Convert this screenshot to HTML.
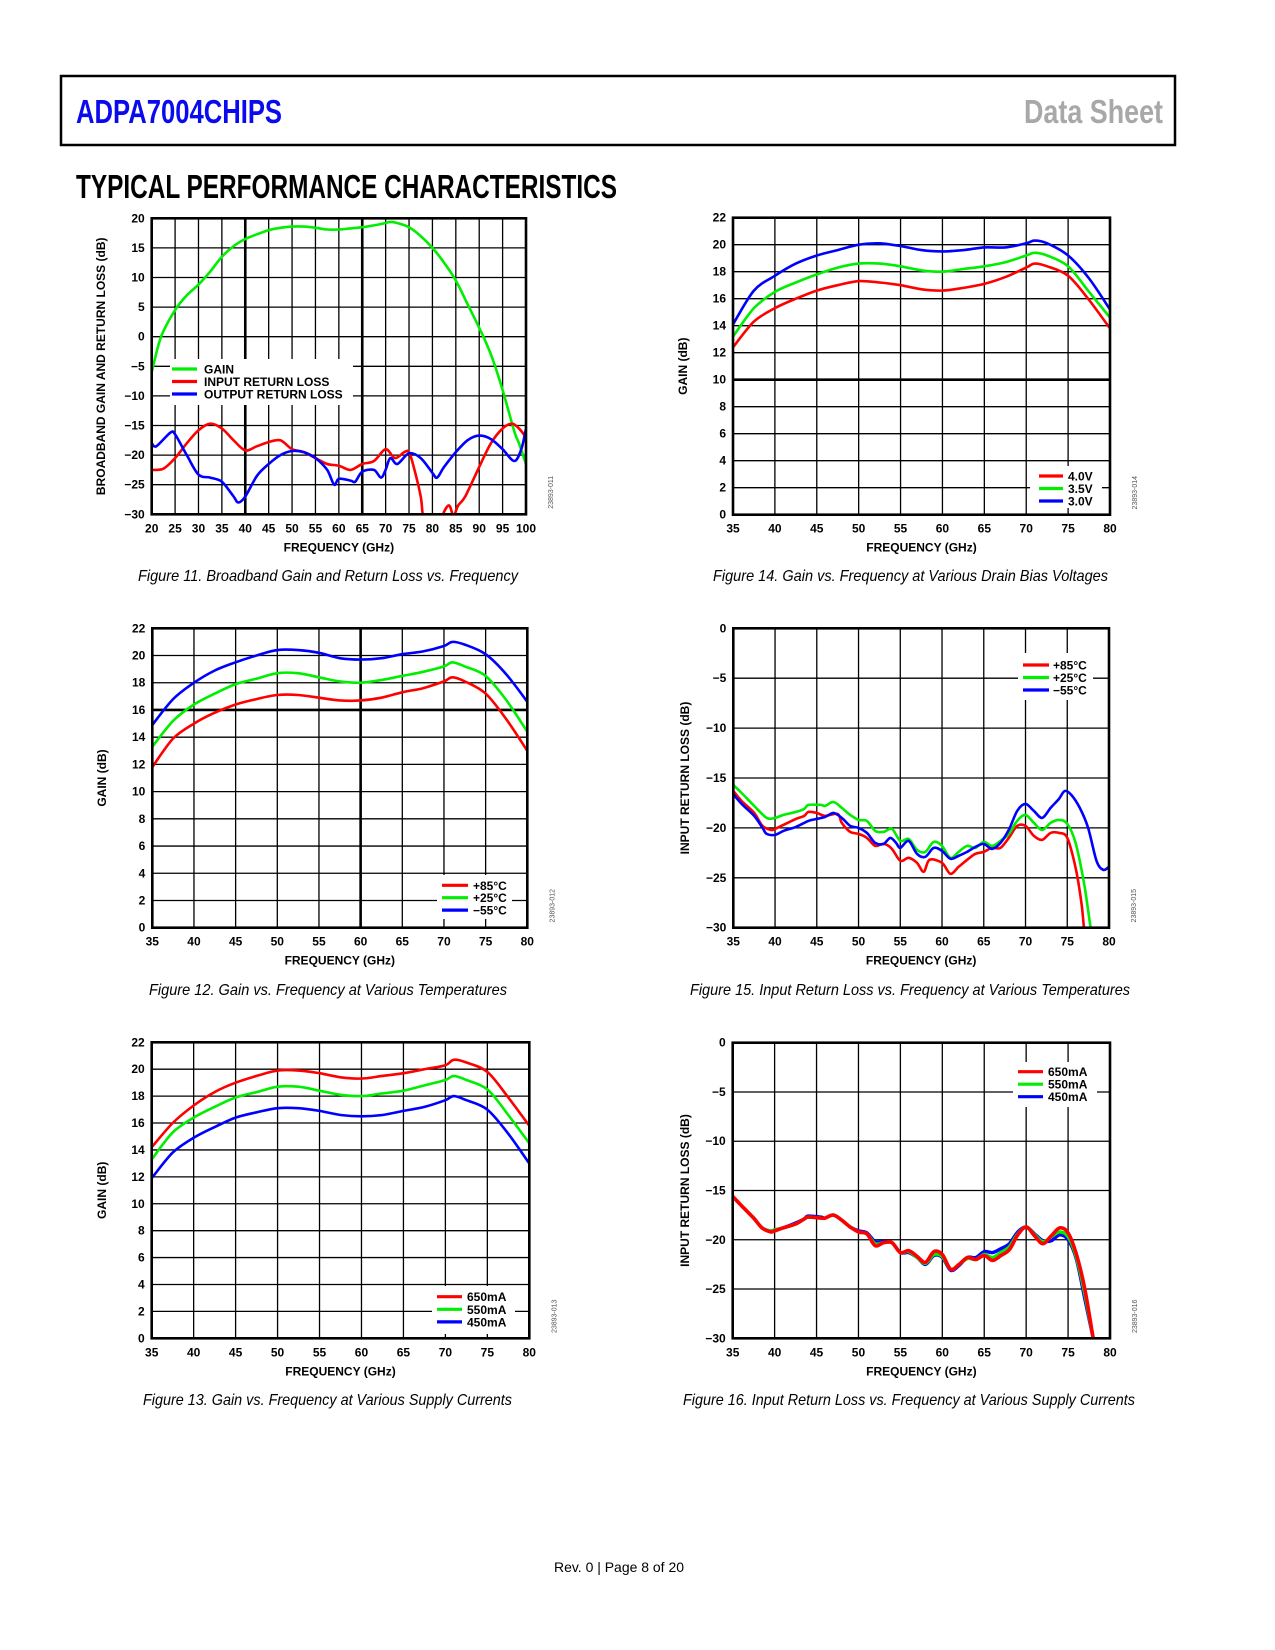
<!DOCTYPE html>
<html><head><meta charset="utf-8"><style>
html,body{margin:0;padding:0;background:#fff;}
svg{display:block;font-family:"Liberation Sans",Arial,sans-serif;}
</style></head><body>
<svg id="page" width="1275" height="1650" viewBox="0 0 1275 1650" xmlns="http://www.w3.org/2000/svg">
<rect x="0" y="0" width="1275" height="1650" fill="#fff"/>
<rect x="61" y="76" width="1114" height="69" fill="none" stroke="#000" stroke-width="2.5"/>
<text x="76" y="123" font-size="33" font-weight="bold" fill="#0a0aee" textLength="206" lengthAdjust="spacingAndGlyphs">ADPA7004CHIPS</text>
<text x="1024" y="123" font-size="33" font-weight="bold" fill="#a8a8a8" textLength="139" lengthAdjust="spacingAndGlyphs">Data Sheet</text>
<text x="76" y="198" font-size="33" font-weight="bold" fill="#000" textLength="541" lengthAdjust="spacingAndGlyphs">TYPICAL PERFORMANCE CHARACTERISTICS</text>
<text x="138" y="581" font-size="16" font-style="italic" textLength="380" lengthAdjust="spacingAndGlyphs">Figure 11. Broadband Gain and Return Loss vs. Frequency</text>
<text x="713" y="581" font-size="16" font-style="italic" textLength="395" lengthAdjust="spacingAndGlyphs">Figure 14. Gain vs. Frequency at Various Drain Bias Voltages</text>
<text x="149" y="995" font-size="16" font-style="italic" textLength="358" lengthAdjust="spacingAndGlyphs">Figure 12. Gain vs. Frequency at Various Temperatures</text>
<text x="690" y="995" font-size="16" font-style="italic" textLength="440" lengthAdjust="spacingAndGlyphs">Figure 15. Input Return Loss vs. Frequency at Various Temperatures</text>
<text x="143" y="1405" font-size="16" font-style="italic" textLength="369" lengthAdjust="spacingAndGlyphs">Figure 13. Gain vs. Frequency at Various Supply Currents</text>
<text x="683" y="1405" font-size="16" font-style="italic" textLength="452" lengthAdjust="spacingAndGlyphs">Figure 16. Input Return Loss vs. Frequency at Various Supply Currents</text>
<text x="554" y="1572" font-size="14" textLength="130" lengthAdjust="spacingAndGlyphs">Rev. 0 | Page 8 of 20</text>
</svg>
<script>
// ---------- Figure 11 data ----------
const f11Freq = [20,22,25,27.5,30,32.5,35,37.5,40,42.5,45,47.5,50,52.5,55,57.5,60,62.5,65,67.5,70,71,72.5,75,77.5,80,82.5,85,87.5,90,92.5,95,97.5,98.5,100];
const f11Gain = [-6,0,4.5,7,8.8,11,13.5,15.3,16.5,17.3,18,18.4,18.6,18.6,18.4,18.1,18.1,18.3,18.5,18.8,19.2,19.4,19.2,18.5,17,15,12.5,9.5,5.5,1.5,-3,-9,-16,-18,-21.5];
const f11InFreq = [20,22.5,25,27.5,30,32.5,35,37.5,40,42.5,45,47.5,50,52.5,55,57.5,60,62.5,65,67.5,70,72,74,75,76,77.5,78,79,81,82,83.5,84.5,85.5,87,90,92.5,95,97,98.5,100];
const f11InRL = [-22.5,-22.3,-20.5,-18,-15.8,-14.7,-15.5,-17.5,-19.2,-18.5,-17.8,-17.5,-19,-19.5,-20.5,-21.5,-21.8,-22.5,-21.5,-21,-19,-20.5,-19.5,-19.5,-22,-27,-30.5,-34,-34,-30.5,-28.5,-30.2,-28.5,-27,-22,-18,-15.5,-14.7,-15.5,-17];
const f11OutFreq = [20,21,24,25,27.5,30,32.5,35,37.5,38.5,40,42.5,45,47.5,50,52.5,55,57.5,59,60,62.5,63.5,65,67.5,69,70,71,72.5,75,77.5,80,81,82.5,85,87.5,90,92.5,95,97.5,99,100];
const f11OutRL = [-18,-18.5,-16.2,-16.5,-20,-23.3,-23.8,-24.5,-27,-28,-27,-23.5,-21.5,-20,-19.3,-19.5,-20.5,-22.5,-25,-24,-24.3,-24.5,-22.8,-22.5,-23.8,-22.5,-20.5,-21.5,-19.7,-20.5,-23,-23.8,-22,-19.5,-17.5,-16.7,-17.3,-19,-21,-19,-15.5];
const f11XTicks = [20,25,30,35,40,45,50,55,60,65,70,75,80,85,90,95,100];
const f11YTicks = [20,15,10,5,0,-5,-10,-15,-20,-25,-30];
const f11Legend = ["GAIN","INPUT RETURN LOSS","OUTPUT RETURN LOSS"];

// ---------- Gain charts frequency grid (Fig 12/13/14) ----------
const gainFreq = [35,37.5,40,42.5,45,47.5,50,52.5,55,57.5,60,62.5,65,67.5,70,71,72.5,75,77.5,80];
const gainXTicks = [35,40,45,50,55,60,65,70,75,80];
const gainYTicks = [22,20,18,16,14,12,10,8,6,4,2,0];

// Fig 14 drain bias
const f14Gain40V = [12.4,14.3,15.3,16.0,16.6,17.0,17.3,17.2,17.0,16.7,16.6,16.8,17.1,17.6,18.3,18.6,18.4,17.7,15.9,13.8];
const f14Gain35V = [13.2,15.3,16.5,17.2,17.8,18.3,18.6,18.6,18.4,18.1,18.0,18.2,18.4,18.7,19.2,19.4,19.2,18.4,16.5,14.6];
const f14Gain30V = [14.1,16.6,17.7,18.6,19.2,19.6,20.0,20.1,19.9,19.6,19.5,19.6,19.8,19.8,20.1,20.3,20.1,19.2,17.5,15.2];
const f14Legend = ["4.0V","3.5V","3.0V"];

// Fig 12 temperatures
const f12GainP85 = [11.8,13.9,15.0,15.8,16.4,16.8,17.1,17.1,16.9,16.7,16.7,16.9,17.3,17.6,18.1,18.4,18.1,17.2,15.3,13.0];
const f12GainP25 = [13.3,15.2,16.4,17.2,17.9,18.3,18.7,18.7,18.4,18.1,18.0,18.2,18.5,18.8,19.2,19.5,19.2,18.5,16.7,14.4];
const f12GainM55 = [14.9,16.8,18.0,18.9,19.5,20.0,20.4,20.4,20.2,19.8,19.7,19.8,20.1,20.3,20.7,21.0,20.8,20.1,18.6,16.6];
const tempLegend = ["+85°C","+25°C","\u221255°C"];

// Fig 13 supply currents
const f13Gain650 = [14.2,16.0,17.3,18.3,19.0,19.5,19.9,19.9,19.7,19.4,19.3,19.5,19.7,20.0,20.3,20.7,20.5,19.8,17.9,15.8];
const f13Gain550 = [13.3,15.3,16.4,17.2,17.9,18.3,18.7,18.7,18.4,18.1,18.0,18.2,18.4,18.8,19.2,19.5,19.2,18.5,16.6,14.5];
const f13Gain450 = [11.9,13.8,14.9,15.7,16.4,16.8,17.1,17.1,16.9,16.6,16.5,16.6,16.9,17.2,17.7,18.0,17.7,17.0,15.2,13.0];
const currLegend = ["650mA","550mA","450mA"];

// ---------- Return loss charts (Fig 15/16) ----------
const rlYTicks = [0,-5,-10,-15,-20,-25,-30];
const f15FreqP85 = [35,36,37.5,38.5,39.5,40,41,42.5,43.5,44,45,46,47.5,48,49,50,51,52,53,54,55,56,57,57.8,58.5,60,61,62,63,64,65,66,67,68,69,70,71,72,73,74,75,76,76.7,77,77.3];
const f15RLP85 = [-16.3,-17.3,-18.5,-19.8,-20.2,-20.1,-19.7,-19.1,-18.8,-18.4,-18.5,-18.8,-18.6,-19.5,-20.4,-20.6,-21,-21.8,-21.6,-22.1,-23.3,-23,-23.5,-24.4,-23.2,-23.5,-24.6,-23.9,-23.2,-22.6,-22.4,-22,-22,-21,-19.8,-19.8,-20.8,-21.2,-20.5,-20.5,-21,-24,-27.5,-30,-31];
const f15FreqP25 = [35,36,37.5,39,40,41,42.5,43.5,44,45.5,46,47,48,49,50,51,52,53,54,55,56,57,58,59,60,61,62,63,64,65,66,67,68,69,70,71,72,73,74,75,76,77,77.8,78.1];
const f15RLP25 = [-15.7,-16.5,-17.8,-19,-19,-18.7,-18.4,-18.1,-17.7,-17.7,-17.8,-17.4,-18,-18.7,-19.2,-19.3,-20.3,-20.4,-20.1,-21.3,-21.1,-22.2,-22.4,-21.4,-21.8,-23,-22.4,-21.8,-22,-21.4,-21.8,-21.3,-20.6,-19.3,-18.7,-19.5,-20.2,-19.5,-19.2,-19.6,-21.5,-25.5,-30,-31];
const f15FreqM55 = [35,36,37.5,38.5,39,40,41,42.5,44,45,46,47,48,49,50,51,52,53,53.8,54.5,55,56,57,58,59,60,61,62,63,64,65,66,67,68,69,70,71,72,73,74,74.7,75.5,76.5,77.5,78.5,79.3,80];
const f15RLM55 = [-16.6,-17.6,-18.8,-20,-20.6,-20.7,-20.3,-19.9,-19.3,-19.1,-18.9,-18.5,-19,-19.8,-20,-20.5,-21.5,-21.6,-21,-21.5,-22,-21.3,-22.6,-22.9,-22,-22.3,-23.1,-22.8,-22.4,-21.9,-21.6,-22.1,-21.5,-20.2,-18.3,-17.6,-18.3,-19,-18,-17.1,-16.3,-16.7,-18,-20,-23.3,-24.2,-23.9];

const f16Freq = [35,36,37.5,38.5,39.5,40,41,42.5,43.5,44,45.5,46,47,48,49,50,51,52,53,54,55,56,57,58,59,60,61,62,63,64,65,66,67,68,69,70,71,72,73,74,75,76,77,78,78.3];
const f16RL650 = [-15.6,-16.5,-17.8,-18.8,-19.2,-19.1,-18.8,-18.4,-17.9,-17.7,-17.8,-17.8,-17.5,-18,-18.7,-19.2,-19.4,-20.6,-20.3,-20.3,-21.3,-21.1,-21.7,-22.3,-21.2,-21.5,-23,-22.5,-21.8,-22,-21.6,-22.1,-21.6,-21,-19.5,-18.7,-19.6,-20.4,-19.6,-18.8,-19.3,-21.5,-25,-30,-31];
const f16RL550 = [-15.6,-16.5,-17.8,-18.8,-19.1,-19.0,-18.8,-18.4,-17.9,-17.7,-17.8,-17.8,-17.5,-18,-18.7,-19.2,-19.4,-20.4,-20.3,-20.3,-21.3,-21.2,-21.8,-22.4,-21.5,-21.7,-23,-22.5,-21.9,-22,-21.5,-21.8,-21.3,-20.7,-19.4,-18.7,-19.5,-20.2,-19.7,-19.2,-19.7,-21.8,-25.5,-30,-31];
const f16RL450 = [-15.6,-16.5,-17.8,-18.8,-19.1,-19.0,-18.8,-18.3,-17.9,-17.6,-17.7,-17.8,-17.5,-18,-18.7,-19.1,-19.3,-20.2,-20.2,-20.3,-21.3,-21.3,-21.8,-22.5,-21.6,-21.8,-23.1,-22.6,-21.8,-21.8,-21.2,-21.3,-20.9,-20.4,-19.2,-18.7,-19.4,-20.1,-20.1,-19.5,-20,-22,-26,-30,-31];

const NS = "http://www.w3.org/2000/svg";
const page = document.getElementById("page");
const RED = "#ff0000", GREEN = "#00ee00", BLUE = "#0000ff";

function mk(tag, attrs, parent) {
  const el = document.createElementNS(NS, tag);
  for (const k in attrs) el.setAttribute(k, attrs[k]);
  (parent || page).appendChild(el);
  return el;
}
function fmt(v) { return v < 0 ? "\u2212" + Math.abs(v) : String(v); }
function smoothPath(P) {
  let d = "M" + P[0][0].toFixed(1) + "," + P[0][1].toFixed(1);
  for (let i = 0; i < P.length - 1; i++) {
    const p0 = P[i - 1] || P[i], p1 = P[i], p2 = P[i + 1], p3 = P[i + 2] || P[i + 1];
    const t = 0.16;
    const c1 = [p1[0] + (p2[0] - p0[0]) * t, p1[1] + (p2[1] - p0[1]) * t];
    const c2 = [p2[0] - (p3[0] - p1[0]) * t, p2[1] - (p3[1] - p1[1]) * t];
    d += " C" + c1[0].toFixed(1) + "," + c1[1].toFixed(1) + " " + c2[0].toFixed(1) + "," + c2[1].toFixed(1) + " " + p2[0].toFixed(1) + "," + p2[1].toFixed(1);
  }
  return d;
}

let clipId = 0;
function drawChart(c) {
  const g = mk("g", {});
  
  
  const xs = v => c.L + (v - c.xmin) / (c.xmax - c.xmin) * (c.R - c.L);
  const ys = v => c.B - (v - c.ymin) / (c.ymax - c.ymin) * (c.B - c.T);
  c.xTicks.forEach(t => {
    const thick = c.thickX.indexOf(t) >= 0;
    const ln = mk("line", {x1: xs(t), x2: xs(t), y1: c.T, y2: c.B, stroke: "#000", "stroke-width": thick ? 2.6 : 1.3}, g);
    
    
    const tx = mk("text", {x: xs(t), y: c.B + 18, "font-size": 12, "font-weight": "bold", "text-anchor": "middle"}, g);
    
    
    tx.textContent = fmt(t);
  });
  c.yTicks.forEach(t => {
    const thick = c.thickY.indexOf(t) >= 0;
    const ln = mk("line", {x1: c.L, x2: c.R, y1: ys(t), y2: ys(t), stroke: "#000", "stroke-width": thick ? 2.6 : 1.3}, g);
    
    
    const tx = mk("text", {x: c.L - 7, y: ys(t) + 4, "font-size": 12, "font-weight": "bold", "text-anchor": "end"}, g);
    
    
    tx.textContent = fmt(t);
  });
  clipId++;
  const cp = mk("clipPath", {id: "clip" + clipId}, g);
  mk("rect", {x: c.L, y: c.T, width: c.R - c.L, height: c.B - c.T}, cp);
  c.series.forEach(s => {
    const P = s.x.map((xv, i) => [xs(xv), ys(s.y[i])]);
    const pl = mk("path", {d: smoothPath(P), fill: "none", stroke: s.color, "stroke-width": s.w || 2.6, "stroke-linejoin": "round", "stroke-linecap": "round", "clip-path": "url(#clip" + clipId + ")"}, g);
    
    
  });
  const lg = c.legend;
  const lcolors = lg.colors || c.series.map(s => s.color);
  const lbox = mk("rect", {x: lg.bx, y: lg.by, width: lg.bw, height: lg.bh, fill: "#fff"}, g);
  
  
  lg.labels.forEach((lab, i) => {
    const y = lg.y0 + i * lg.dy;
    const ln = mk("line", {x1: lg.x1, x2: lg.x2, y1: y, y2: y, stroke: lcolors[i], "stroke-width": 3.2}, g);
    
    
    const tx = mk("text", {x: lg.tx, y: y + 4.5, "font-size": 12, "font-weight": "bold"}, g);
    
    
    tx.textContent = lab;
  });
  const bd = mk("rect", {x: c.L, y: c.T, width: c.R - c.L, height: c.B - c.T, fill: "none", stroke: "#000", "stroke-width": 2.6}, g);
  
  
  const xt = mk("text", {x: (c.L + c.R) / 2, y: c.B + 37, "font-size": 12, "font-weight": "bold", "text-anchor": "middle"}, g);
  
  
  xt.textContent = "FREQUENCY (GHz)";
  const yx = c.ytx, yy = (c.T + c.B) / 2;
  const yt = mk("text", {x: yx, y: yy, "font-size": 12, "font-weight": "bold", "text-anchor": "middle", transform: "rotate(-90 " + yx + " " + yy + ")"}, g);
  
  
  yt.textContent = c.ytitle;
  const cx = c.R + 27, cy = c.B - 22;
  const cd = mk("text", {x: cx, y: cy, "font-size": 7, fill: "#555", "text-anchor": "middle", transform: "rotate(-90 " + cx + " " + cy + ")"}, g);
  
  
  cd.textContent = c.code;
}

drawChart({name: "chart-fig11", L: 151.7, R: 526, T: 218.3, B: 514.3, xmin: 20, xmax: 100, ymin: -30, ymax: 20,
  xTicks: f11XTicks, yTicks: f11YTicks, thickX: [40, 65], thickY: [],
  series: [
    {name: "gain-line", x: f11Freq, y: f11Gain, color: GREEN},
    {name: "input-return-loss-line", x: f11InFreq, y: f11InRL, color: RED},
    {name: "output-return-loss-line", x: f11OutFreq, y: f11OutRL, color: BLUE}],
  legend: {labels: f11Legend, bx: 170, by: 359, bw: 183, bh: 46, x1: 172, x2: 197, tx: 204, y0: 369, dy: 12.5},
  ytitle: "BROADBAND GAIN AND RETURN LOSS (dB)", ytx: 105, code: "23893-011"});

drawChart({name: "chart-fig14", L: 733, R: 1110, T: 217.7, B: 514.7, xmin: 35, xmax: 80, ymin: 0, ymax: 22,
  xTicks: gainXTicks, yTicks: gainYTicks, thickX: [], thickY: [10],
  series: [
    {name: "gain-4v-line", x: gainFreq, y: f14Gain40V, color: RED},
    {name: "gain-3v5-line", x: gainFreq, y: f14Gain35V, color: GREEN},
    {name: "gain-3v-line", x: gainFreq, y: f14Gain30V, color: BLUE}],
  legend: {labels: f14Legend, bx: 1030, by: 466, bw: 72, bh: 42, x1: 1039, x2: 1063, tx: 1068, y0: 476, dy: 12.5},
  ytitle: "GAIN (dB)", ytx: 687, code: "23893-014"});

drawChart({name: "chart-fig12", L: 152.3, R: 527.3, T: 628.3, B: 927.7, xmin: 35, xmax: 80, ymin: 0, ymax: 22,
  xTicks: gainXTicks, yTicks: gainYTicks, thickX: [60], thickY: [16],
  series: [
    {name: "gain-plus85c-line", x: gainFreq, y: f12GainP85, color: RED},
    {name: "gain-plus25c-line", x: gainFreq, y: f12GainP25, color: GREEN},
    {name: "gain-minus55c-line", x: gainFreq, y: f12GainM55, color: BLUE}],
  legend: {labels: tempLegend, bx: 437, by: 875, bw: 75, bh: 44, x1: 442, x2: 468, tx: 473, y0: 885.3, dy: 12.4},
  ytitle: "GAIN (dB)", ytx: 106, code: "23893-012"});

drawChart({name: "chart-fig15", L: 733.3, R: 1109, T: 628.3, B: 927.7, xmin: 35, xmax: 80, ymin: -30, ymax: 0,
  xTicks: gainXTicks, yTicks: rlYTicks, thickX: [], thickY: [],
  series: [
    {name: "rl-plus85c-line", x: f15FreqP85, y: f15RLP85, color: RED},
    {name: "rl-plus25c-line", x: f15FreqP25, y: f15RLP25, color: GREEN},
    {name: "rl-minus55c-line", x: f15FreqM55, y: f15RLM55, color: BLUE}],
  legend: {labels: tempLegend, bx: 1018, by: 653, bw: 75, bh: 47, x1: 1023, x2: 1049, tx: 1053, y0: 665, dy: 12.5},
  ytitle: "INPUT RETURN LOSS (dB)", ytx: 689, code: "23893-015"});

drawChart({name: "chart-fig13", L: 151.7, R: 529.3, T: 1042.3, B: 1338.3, xmin: 35, xmax: 80, ymin: 0, ymax: 22,
  xTicks: gainXTicks, yTicks: gainYTicks, thickX: [], thickY: [],
  series: [
    {name: "gain-650ma-line", x: gainFreq, y: f13Gain650, color: RED},
    {name: "gain-550ma-line", x: gainFreq, y: f13Gain550, color: GREEN},
    {name: "gain-450ma-line", x: gainFreq, y: f13Gain450, color: BLUE}],
  legend: {labels: currLegend, bx: 432, by: 1286, bw: 83, bh: 48, x1: 437, x2: 462, tx: 467, y0: 1296.7, dy: 12.6},
  ytitle: "GAIN (dB)", ytx: 106, code: "23893-013"});

drawChart({name: "chart-fig16", L: 732.7, R: 1110, T: 1042.7, B: 1338.3, xmin: 35, xmax: 80, ymin: -30, ymax: 0,
  xTicks: gainXTicks, yTicks: rlYTicks, thickX: [], thickY: [],
  series: [
    {name: "rl-450ma-line", x: f16Freq, y: f16RL450, color: BLUE, w: 3.4},
    {name: "rl-550ma-line", x: f16Freq, y: f16RL550, color: GREEN, w: 3.4},
    {name: "rl-650ma-line", x: f16Freq, y: f16RL650, color: RED, w: 3.6}],
  legend: {labels: currLegend, colors: [RED, GREEN, BLUE], bx: 1013, by: 1062, bw: 84, bh: 45, x1: 1018, x2: 1043, tx: 1048, y0: 1071.7, dy: 12.5},
  ytitle: "INPUT RETURN LOSS (dB)", ytx: 689, code: "23893-016"});
</script>
</body></html>
